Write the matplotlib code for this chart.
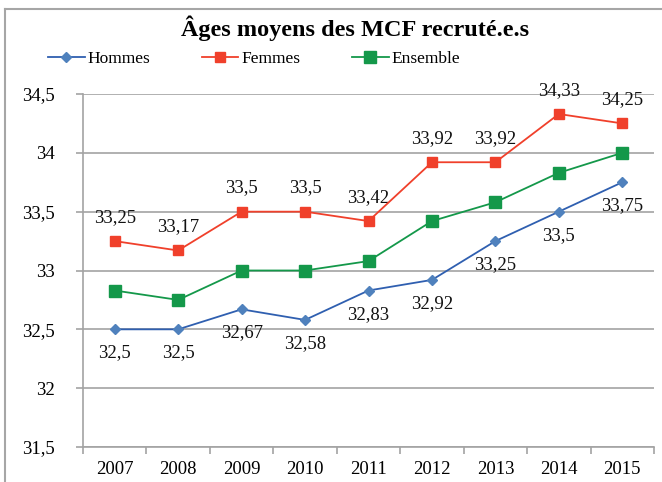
import matplotlib
matplotlib.use("Agg")
import matplotlib.pyplot as plt
from matplotlib.lines import Line2D
from matplotlib.ticker import FuncFormatter, FixedLocator

years = ["2007", "2008", "2009", "2010", "2011", "2012", "2013", "2014", "2015"]
hommes = [32.5, 32.5, 32.67, 32.58, 32.83, 32.92, 33.25, 33.5, 33.75]
femmes = [33.25, 33.17, 33.5, 33.5, 33.42, 33.92, 33.92, 34.33, 34.25]
ensemble = [32.83, 32.75, 33.0, 33.0, 33.08, 33.42, 33.58, 33.83, 34.0]
y_ticks = [31.5, 32, 32.5, 33, 33.5, 34, 34.5]

BLUE = "#2f5fb0"
BLUE_M = "#4f81bd"
RED = "#f0402b"
GREEN = "#14984a"
GRID = "#a3a3a3"

plt.rcParams["font.family"] = ["Liberation Serif", "DejaVu Serif"]

fig = plt.figure(figsize=(6.62, 4.82), dpi=100)
ax = fig.add_axes([83 / 662, 1 - 447 / 482, (654 - 83) / 662, (447 - 94) / 482])

x = list(range(len(years)))
ax.plot(x, hommes, color=BLUE, lw=1.3, marker="D", ms=5, mfc=BLUE_M, mec=BLUE_M, zorder=4)
ax.plot(x, femmes, color=RED, lw=1.3, marker="s", ms=7, mfc=RED, mec=RED, zorder=4)
ax.plot(x, ensemble, color=GREEN, lw=1.3, marker="s", ms=8, mfc=GREEN, mec=GREEN, zorder=4)


def fr(v):
    s = f"{v:.2f}".rstrip("0").rstrip(".")
    return s.replace(".", ",")


for xi, v in zip(x, femmes):
    ax.annotate(fr(v), (xi, v), xytext=(0, 17), textcoords="offset points",
                ha="center", va="center", fontsize=13.5, color="#111111")
for xi, v in zip(x, hommes):
    ax.annotate(fr(v), (xi, v), xytext=(0, -17), textcoords="offset points",
                ha="center", va="center", fontsize=13.5, color="#111111")

ax.set_xlim(-0.5, len(years) - 0.5)
ax.set_ylim(31.5, 34.5)
ax.set_yticks(y_ticks)
ax.yaxis.set_major_formatter(FuncFormatter(lambda v, p: fr(v)))
ax.set_xticks(x)
ax.set_xticklabels(years)
ax.xaxis.set_minor_locator(FixedLocator([i - 0.5 for i in range(len(years) + 1)]))
ax.tick_params(axis="x", which="major", length=0, pad=10, labelsize=13.5)
ax.tick_params(axis="x", which="minor", length=5, color=GRID, width=1.2)
ax.tick_params(axis="y", length=5, color=GRID, width=1.2, pad=15, labelsize=13.5)
ax.grid(axis="y", color=GRID, lw=1.2)
ax.set_axisbelow(True)
for s in ["top", "right"]:
    ax.spines[s].set_visible(False)
for s in ["left", "bottom"]:
    ax.spines[s].set_color(GRID)
    ax.spines[s].set_linewidth(1.2)

fig.text(355 / 662, 1 - 28 / 482, "Âges moyens des MCF recruté.e.s",
         ha="center", va="center", fontsize=17.5, fontweight="bold")

handles = [
    Line2D([], [], color=BLUE, lw=1.3, marker="D", ms=5, mfc=BLUE_M, mec=BLUE_M),
    Line2D([], [], color=RED, lw=1.3, marker="s", ms=7, mfc=RED, mec=RED),
    Line2D([], [], color=GREEN, lw=1.3, marker="s", ms=8, mfc=GREEN, mec=GREEN),
]
fig.legend(handles, ["Hommes", "Femmes", "Ensemble"], loc="center",
           bbox_to_anchor=(254 / 662, 1 - 59 / 482), ncol=3, frameon=False,
           fontsize=12.5, handlelength=2.1, handletextpad=0.15, columnspacing=3.0)

# outer chart border
fig.add_artist(Line2D([5 / 662, 5 / 662], [0, 1 - 9 / 482], color="#a6a6a6", lw=1.5,
                      transform=fig.transFigure))
fig.add_artist(Line2D([5 / 662, 1], [1 - 9 / 482, 1 - 9 / 482], color="#a6a6a6", lw=1.5,
                      transform=fig.transFigure))

fig.savefig("out.png", dpi=100)
